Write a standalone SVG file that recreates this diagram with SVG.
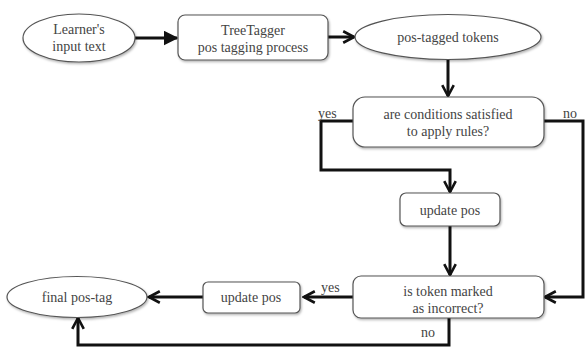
<svg xmlns="http://www.w3.org/2000/svg" width="588" height="347" viewBox="0 0 588 347">
<style>
.n{fill:#fff;stroke:#555;stroke-width:1.2;filter:url(#sh)}
.t{font-family:"Liberation Serif","Times New Roman",serif;font-size:14px;fill:#444;text-anchor:middle}
.l{font-family:"Liberation Serif","Times New Roman",serif;font-size:14px;fill:#444}
.c{fill:none;stroke:#111;stroke-width:3;stroke-linejoin:miter}
</style>
<defs>
<filter id="sh" x="-10%" y="-20%" width="120%" height="150%"><feDropShadow dx="1" dy="1.5" stdDeviation="1.2" flood-color="#000" flood-opacity="0.3"/></filter>
<marker id="af" viewBox="0 0 10 10" refX="9" refY="5" markerWidth="5" markerHeight="5" markerUnits="strokeWidth" orient="auto"><path d="M0,0 L10,5 L0,10 z" fill="#111"/></marker>
<marker id="av" viewBox="0 0 10 10" refX="8.5" refY="5" markerWidth="4.8" markerHeight="4.8" markerUnits="strokeWidth" orient="auto"><path d="M1,1 L8.5,5 L1,9" fill="none" stroke="#111" stroke-width="1.8"/></marker>
</defs>
<g id="connectors">
<path class="c" d="M135,38 H177" marker-end="url(#af)"/>
<path class="c" d="M328,37 H354" marker-end="url(#av)"/>
<path class="c" d="M448,59 V96" marker-end="url(#av)"/>
<path class="c" d="M353,121 H321 V170 H450 V192" marker-end="url(#av)"/>
<path class="c" d="M544,121 H583 V297 H545" marker-end="url(#av)"/>
<path class="c" d="M450,226 V275" marker-end="url(#av)"/>
<path class="c" d="M353,297 H304" marker-end="url(#av)"/>
<path class="c" d="M203,297 H149" marker-end="url(#av)"/>
<path class="c" d="M449,318 V345 H78 V318" marker-end="url(#av)"/>
</g>
<g id="labels">
<text class="l" x="318" y="118">yes</text>
<text class="l" x="563" y="118">no</text>
<text class="l" x="321" y="292">yes</text>
<text class="l" x="421" y="337">no</text>
</g>
<g id="learner"><ellipse class="n" cx="79" cy="38" rx="56" ry="24"/><text class="t" x="79" y="34">Learner's</text><text class="t" x="79" y="51">input text</text></g>
<g id="treetagger"><rect class="n" x="178" y="15" width="150" height="45" rx="7"/><text class="t" x="253" y="35">TreeTagger</text><text class="t" x="253" y="52">pos tagging process</text></g>
<g id="tokens"><ellipse class="n" cx="448" cy="37" rx="93" ry="22.5"/><text class="t" x="448" y="42">pos-tagged tokens</text></g>
<g id="conditions"><rect class="n" x="353" y="97" width="191" height="50" rx="12"/><text class="t" x="448" y="119">are conditions satisfied</text><text class="t" x="448" y="136">to apply rules?</text></g>
<g id="update1"><rect class="n" x="400" y="193" width="100" height="33" rx="6"/><text class="t" x="450" y="215">update pos</text></g>
<g id="incorrect"><rect class="n" x="353" y="276" width="191" height="42" rx="8"/><text class="t" x="448" y="296">is token marked</text><text class="t" x="448" y="313">as incorrect?</text></g>
<g id="update2"><rect class="n" x="203" y="282" width="97" height="31" rx="5"/><text class="t" x="251" y="302">update pos</text></g>
<g id="final"><ellipse class="n" cx="77" cy="297" rx="70" ry="20.5"/><text class="t" x="77" y="302">final pos-tag</text></g>
</svg>
